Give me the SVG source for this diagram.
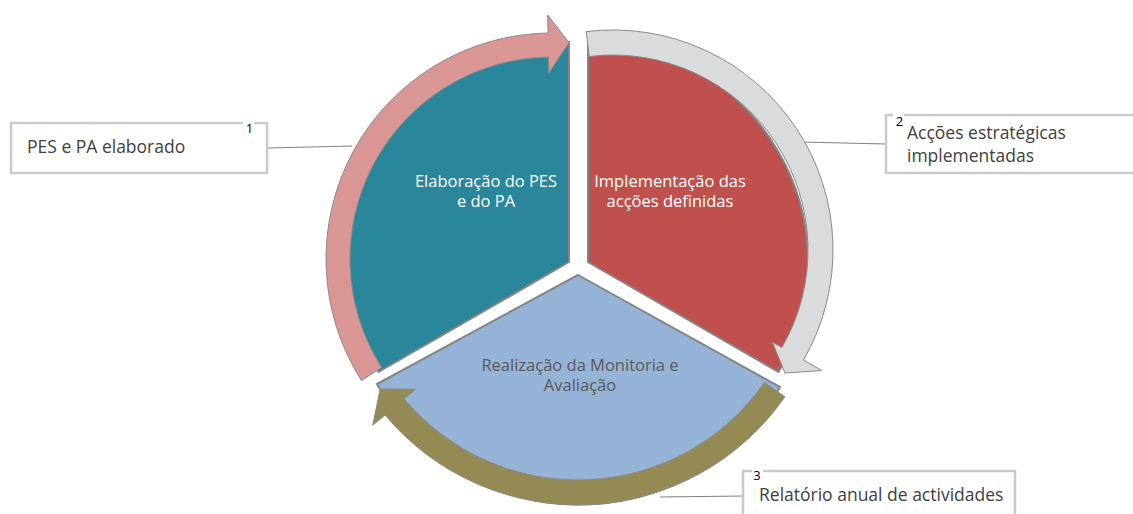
<svg xmlns="http://www.w3.org/2000/svg" width="1133" height="514" viewBox="0 0 1133 514">
<style>
.seg{stroke:#858585;stroke-width:2;stroke-linejoin:miter}
.arr{stroke:#8a8a8a;stroke-width:1;stroke-linejoin:miter}
.lbl{font-family:"Open Sans","Noto Sans","DejaVu Sans",sans-serif;font-size:16.5px;text-anchor:middle}
.box{fill:#ffffff;stroke:#cbcbcb;stroke-width:2.5}
.btxt{font-family:"Open Sans","Noto Sans","DejaVu Sans",sans-serif;font-size:17.5px;fill:#404040}
.num{font-family:"Open Sans","Noto Sans","DejaVu Sans",sans-serif;font-size:13px;fill:#000000;text-anchor:middle}
.conn{stroke:#7f7f7f;stroke-width:1.2;fill:none}
</style>
<rect width="1133" height="514" fill="#ffffff"/>
<g id="connectors">
<line class="conn" x1="267" y1="148" x2="352" y2="146"/>
<line class="conn" x1="801" y1="142" x2="886" y2="144"/>
<line class="conn" x1="660" y1="497" x2="743" y2="496"/>
</g>
<g id="node-elaboracao">
<path class="seg" fill="#2A879B" d="M569 262 L378.5 372 A220 220 0 0 1 569 42 Z"/>
<text class="lbl" fill="#ffffff"><tspan x="486" y="187">Elaboração do PES</tspan><tspan x="486" y="207">e do PA</tspan></text>
</g>
<g id="node-implementacao">
<path class="seg" fill="#C0504D" d="M588 262 L588 42 A220 220 0 0 1 778.5 372 Z"/>
<text class="lbl" fill="#ffffff"><tspan x="670" y="187">Implementação das</tspan><tspan x="670" y="207">acções definidas</tspan></text>
</g>
<g id="node-monitoria">
<path class="seg" fill="#95B3D7" d="M578 275 L780 387 A230 230 0 0 1 377 384 Z"/>
<text class="lbl" fill="#595959"><tspan x="580" y="371">Realização da Monitoria e</tspan><tspan x="580" y="391">Avaliação</tspan></text>
</g>
<g id="arrow-1">
<path class="arr" fill="#D99694" d="M361.4 380.4 A226 226 0 0 1 548.1 33 L547.7 15 L569 42.7 L548.8 73 L548.5 57 A202 202 0 0 0 381.6 367.5 Z"/>
</g>
<g id="arrow-2">
<path class="arr" fill="#D9DBDD" d="M586.2 31.6 A220 220 0 0 1 803.5 360 L821.7 370.5 L785 373.1 L772.3 342 L781.9 347.5 A195 195 0 0 0 589.2 56.5 Z"/>
</g>
<g id="arrow-3">
<path class="arr" fill="#948A54" d="M784.9 396.8 A252 252 0 0 1 385 415 L372.7 425.3 L380.2 388.9 L415.6 389.3 L404.1 398.9 A227 227 0 0 0 764.4 382.5 Z"/>
</g>
<g id="callout-1">
<rect class="box" x="11" y="123" width="256" height="50"/>
<rect x="243" y="119" width="11" height="8" fill="#ffffff"/>
<text class="num" x="249.5" y="133">1</text>
<text class="btxt" x="27" y="153">PES e PA elaborado</text>
</g>
<g id="callout-2">
<rect class="box" x="886" y="115" width="270" height="58"/>
<rect x="893" y="111" width="11" height="8" fill="#ffffff"/>
<text class="num" x="899.5" y="126">2</text>
<text class="btxt"><tspan x="907" y="139">Acções estratégicas</tspan><tspan x="907" y="162">implementadas</tspan></text>
</g>
<g id="callout-3">
<rect class="box" x="743" y="471" width="272" height="60"/>
<rect x="752" y="467" width="11" height="8" fill="#ffffff"/>
<text class="num" x="757" y="480">3</text>
<text class="btxt" x="759" y="501">Relatório anual de actividades</text>
</g>
</svg>
